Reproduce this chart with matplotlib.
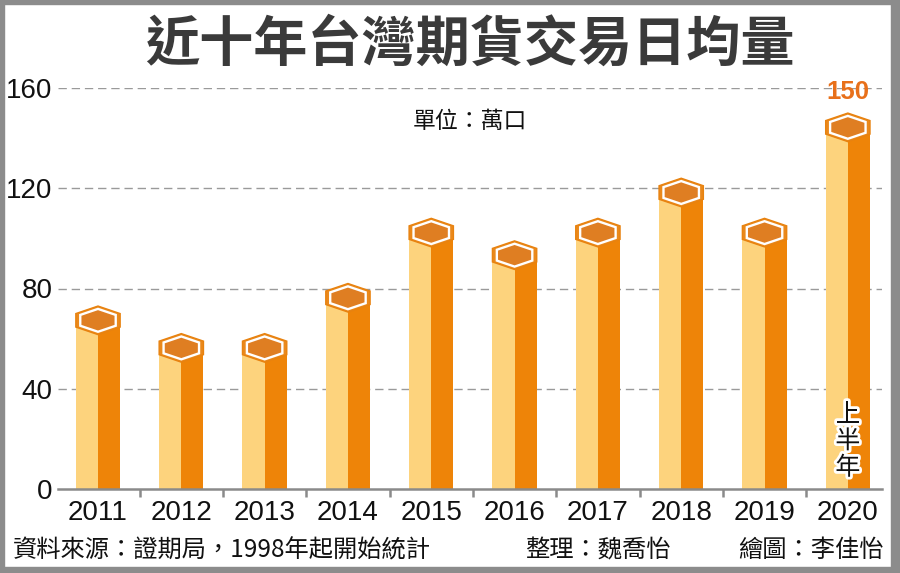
import numpy as np
import matplotlib
matplotlib.use("Agg")
import matplotlib.pyplot as plt
from matplotlib.patches import Polygon, Rectangle
import matplotlib.patheffects as pe

plt.rcParams['font.family'] = ['Noto Sans CJK TC', 'DejaVu Sans']

# --- data (萬口, daily average) ---
years = ['2011', '2012', '2013', '2014', '2015', '2016', '2017', '2018', '2019', '2020']
volume = [73, 62, 62, 82, 108, 99, 108, 124, 108, 150]
y_ticks = [0, 40, 80, 120, 160]

light = '#FDD37D'
dark = '#EE8408'
hex_outer = '#EA891C'
hex_inner = '#DF7E22'
grid_c = '#9a9a9a'

fig = plt.figure(figsize=(9, 5.73), dpi=100)
ax = fig.add_axes([58 / 900, 84 / 573, 824 / 900, 401 / 573])
ax.set_xlim(-0.48, 9.41)
ax.set_ylim(0, 160)

x = np.arange(len(years))
half_w = 0.266          # half bar width in category units
a = 3.0                 # hex top slope height (data units)
b = 5.4                 # hex vertical side height

# bar bodies: light left half, dark right half, up to hex centre
body = [v - a - b / 2 for v in volume]
ax.bar(x - half_w / 2, body, width=half_w, color=light, zorder=3, linewidth=0)
ax.bar(x + half_w / 2, body, width=half_w, color=dark, zorder=3, linewidth=0)


def hexagon(cx, top, scale=1.0):
    cy = top - a - b / 2
    pts = np.array([
        [0, a + b / 2], [half_w, b / 2], [half_w, -b / 2],
        [0, -a - b / 2], [-half_w, -b / 2], [-half_w, b / 2],
    ])
    pts = pts * scale
    pts[:, 0] += cx
    pts[:, 1] += cy
    return pts


for xi, v in zip(x, volume):
    ax.add_patch(Polygon(hexagon(xi, v), closed=True, facecolor=hex_outer,
                         edgecolor='#E8820F', linewidth=1, zorder=4))
    ax.add_patch(Polygon(hexagon(xi, v, 0.8), closed=True, facecolor=hex_inner,
                         edgecolor='white', linewidth=1.7, zorder=5))

# gridlines
for yt in y_ticks[1:]:
    ax.axhline(yt, color=grid_c, lw=1.0, dashes=(6, 3.5), zorder=1)

# axes styling
for s in ['top', 'right', 'left']:
    ax.spines[s].set_visible(False)
ax.spines['bottom'].set_color('#8a8a8a')
ax.spines['bottom'].set_linewidth(1.8)
ax.spines['bottom'].set_zorder(6)

ax.set_yticks(y_ticks)
ax.set_yticklabels([str(t) for t in y_ticks], fontfamily='Liberation Sans',
                   fontsize=20, color='#111111')
ax.tick_params(axis='y', length=0, pad=4)

ax.set_xticks(x)
ax.set_xticklabels(years, fontfamily='Liberation Sans', fontsize=20, color='#111111')
ax.set_xticks(x[:-1] + 0.5, minor=True)
ax.tick_params(axis='x', which='major', length=0, pad=8)
ax.tick_params(axis='x', which='minor', length=6, width=1.8, color='#8a8a8a',
               direction='out')

# annotations
ax.text(x[-1], 153.5, '150', ha='center', va='bottom', fontfamily='Liberation Sans',
        fontsize=18.5, fontweight='bold', color='#E8701A')
ax.text(x[-1], 19, '上\n半\n年', ha='center', va='center', fontsize=18,
        color='#111111', linespacing=1.02, zorder=7,
        path_effects=[pe.withStroke(linewidth=4, foreground='white')])

fig.text(0.522, 1 - 45 / 573, '近十年台灣期貨交易日均量', ha='center', va='center',
         fontsize=39, fontweight='bold', color='#3a3a3a')
fig.text(470 / 900, 1 - 122 / 573, '單位：萬口', ha='center', va='center',
         fontsize=16.5, color='#111111')

fig.text(13 / 900, 1 - 550 / 573, '資料來源：證期局，1998年起開始統計', ha='left',
         va='center', fontsize=17.5, color='#111111')
fig.text(525 / 900, 1 - 550 / 573, '整理：魏喬怡', ha='left', va='center',
         fontsize=17.5, color='#111111')
fig.text(884 / 900, 1 - 550 / 573, '繪圖：李佳怡', ha='right', va='center',
         fontsize=17.5, color='#111111')

# grey frame around the graphic
frame_c = '#8c8c8c'
fw, fh = 900, 573
for (x0, y0, w, h) in [(0, fh - 4, fw, 4), (0, 0, 4, fh), (fw - 9, 0, 9, fh), (0, 0, fw, 6)]:
    fig.patches.append(Rectangle((x0 / fw, y0 / fh), w / fw, h / fh,
                                 transform=fig.transFigure, color=frame_c,
                                 zorder=10))

fig.savefig('out.png', dpi=100)
